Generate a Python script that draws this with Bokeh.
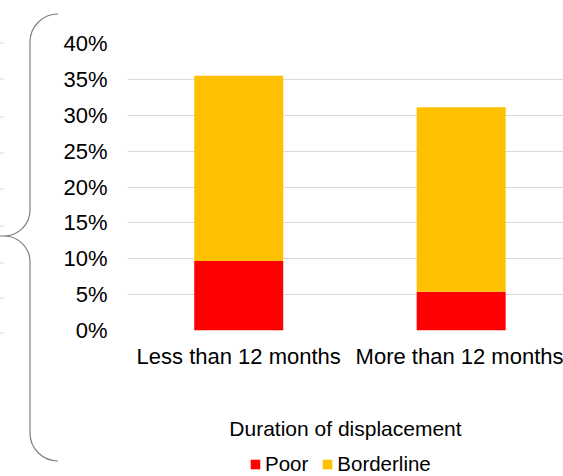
from bokeh.plotting import figure
from bokeh.layouts import row, column
from bokeh.models import (Range1d, FixedTicker, NumeralTickFormatter, Legend,
                          LegendItem, ColumnDataSource, Div)
from bokeh.embed import file_html
from bokeh.resources import INLINE

# ---- data ----
categories = ["Less than 12 months", "More than 12 months"]
poor = [0.097, 0.054]
borderline = [0.258, 0.257]
series_names = ["Poor", "Borderline"]
series_colors = ["#FF0000", "#FFC000"]
y_ticks = [0.0, 0.05, 0.10, 0.15, 0.20, 0.25, 0.30, 0.35, 0.40]
axis_title = "Duration of displacement"

FONT = "Liberation Sans"
FS_TICK = "22px"
FS_TITLE = "21px"
FS_LEG = "20.5px"

# ---- main chart ----
p = figure(width=503, height=450, x_range=Range1d(-0.5, 1.46), y_range=Range1d(0, 0.4),
           output_backend="svg", toolbar_location=None,
           min_border_left=64, min_border_right=0, min_border_top=43, min_border_bottom=120)
p.outline_line_color = None
p.xgrid.grid_line_color = None
p.ygrid.ticker = FixedTicker(ticks=y_ticks)
p.ygrid.grid_line_color = "#d9d9d9"
p.ygrid.grid_line_width = 1

src = ColumnDataSource(dict(x=list(range(len(categories))), poor=poor, borderline=borderline))
p.vbar_stack(["poor", "borderline"], x="x", width=0.4, color=series_colors,
             line_color=None, source=src)

# axes
p.yaxis.ticker = FixedTicker(ticks=y_ticks)
p.yaxis.formatter = NumeralTickFormatter(format="0%")
p.yaxis.axis_line_color = None
p.yaxis.major_tick_line_color = None
p.yaxis.minor_tick_line_color = None
p.yaxis.major_tick_out = 0
p.yaxis.major_label_standoff = 20
p.yaxis.major_label_text_font = FONT
p.yaxis.major_label_text_font_size = FS_TICK
p.yaxis.major_label_text_color = "#000000"

p.xaxis.ticker = FixedTicker(ticks=list(range(len(categories))))
p.xaxis.major_label_overrides = {i: c for i, c in enumerate(categories)}
p.xaxis.axis_line_color = None
p.xaxis.major_tick_line_color = None
p.xaxis.minor_tick_line_color = None
p.xaxis.major_tick_out = 0
p.xaxis.major_label_standoff = 13
p.xaxis.major_label_text_font = FONT
p.xaxis.major_label_text_font_size = FS_TICK
p.xaxis.major_label_text_color = "#000000"
p.xaxis.axis_label = axis_title
p.xaxis.axis_label_standoff = 45
p.xaxis.axis_label_text_font = FONT
p.xaxis.axis_label_text_font_size = FS_TITLE
p.xaxis.axis_label_text_font_style = "normal"
p.xaxis.axis_label_text_color = "#000000"

# ---- legend strip under the chart (same series, bars kept out of its view) ----
lg = figure(width=503, height=26, x_range=Range1d(-0.5, 1.46), y_range=Range1d(5, 6),
            output_backend="svg", toolbar_location=None,
            min_border_left=64, min_border_right=0, min_border_top=0, min_border_bottom=0)
lg.axis.visible = False
lg.grid.grid_line_color = None
lg.outline_line_color = None
keys = lg.vbar_stack(["poor", "borderline"], x="x", width=0.4, color=series_colors,
                     line_color=None, source=src)
legend = Legend(items=[LegendItem(label=n, renderers=[r]) for n, r in zip(series_names, keys)],
                orientation="horizontal", location=(122, 0),
                label_text_font=FONT, label_text_font_size=FS_LEG, label_text_color="#000000",
                glyph_width=12, glyph_height=12, label_height=20, label_standoff=4, spacing=13,
                padding=0, margin=0, border_line_color=None, background_fill_alpha=0)
lg.add_layout(legend, "center")

# ---- left decoration: curly brace and cut-off tick marks (pixels) ----
side_ticks_y = [43, 79, 117, 153, 189, 226, 263, 298, 333]
ticks_svg = "".join(
    f'<line x1="0" y1="{y}" x2="4" y2="{y}" stroke="#d9d9d9" stroke-width="1"/>'
    for y in side_ticks_y)
brace_path = ("M 58 14 A 28 28 0 0 0 30 42 L 30 210 A 26 26 0 0 1 4 236 L 0 236 "
              "M 0 236 L 4 236 A 26 26 0 0 1 30 262 L 30 433 A 28 28 0 0 0 58 461")
svg = (f'<svg xmlns="http://www.w3.org/2000/svg" width="60" height="476" '
       f'style="display:block">{ticks_svg}'
       f'<path d="{brace_path}" fill="none" stroke="#7f7f7f" stroke-width="1.2"/></svg>')
brace = Div(text=svg, width=60, height=476, margin=0)

layout = row(brace, column(p, lg, spacing=0), spacing=0)
open("out.html", "w").write(file_html(layout, INLINE))
